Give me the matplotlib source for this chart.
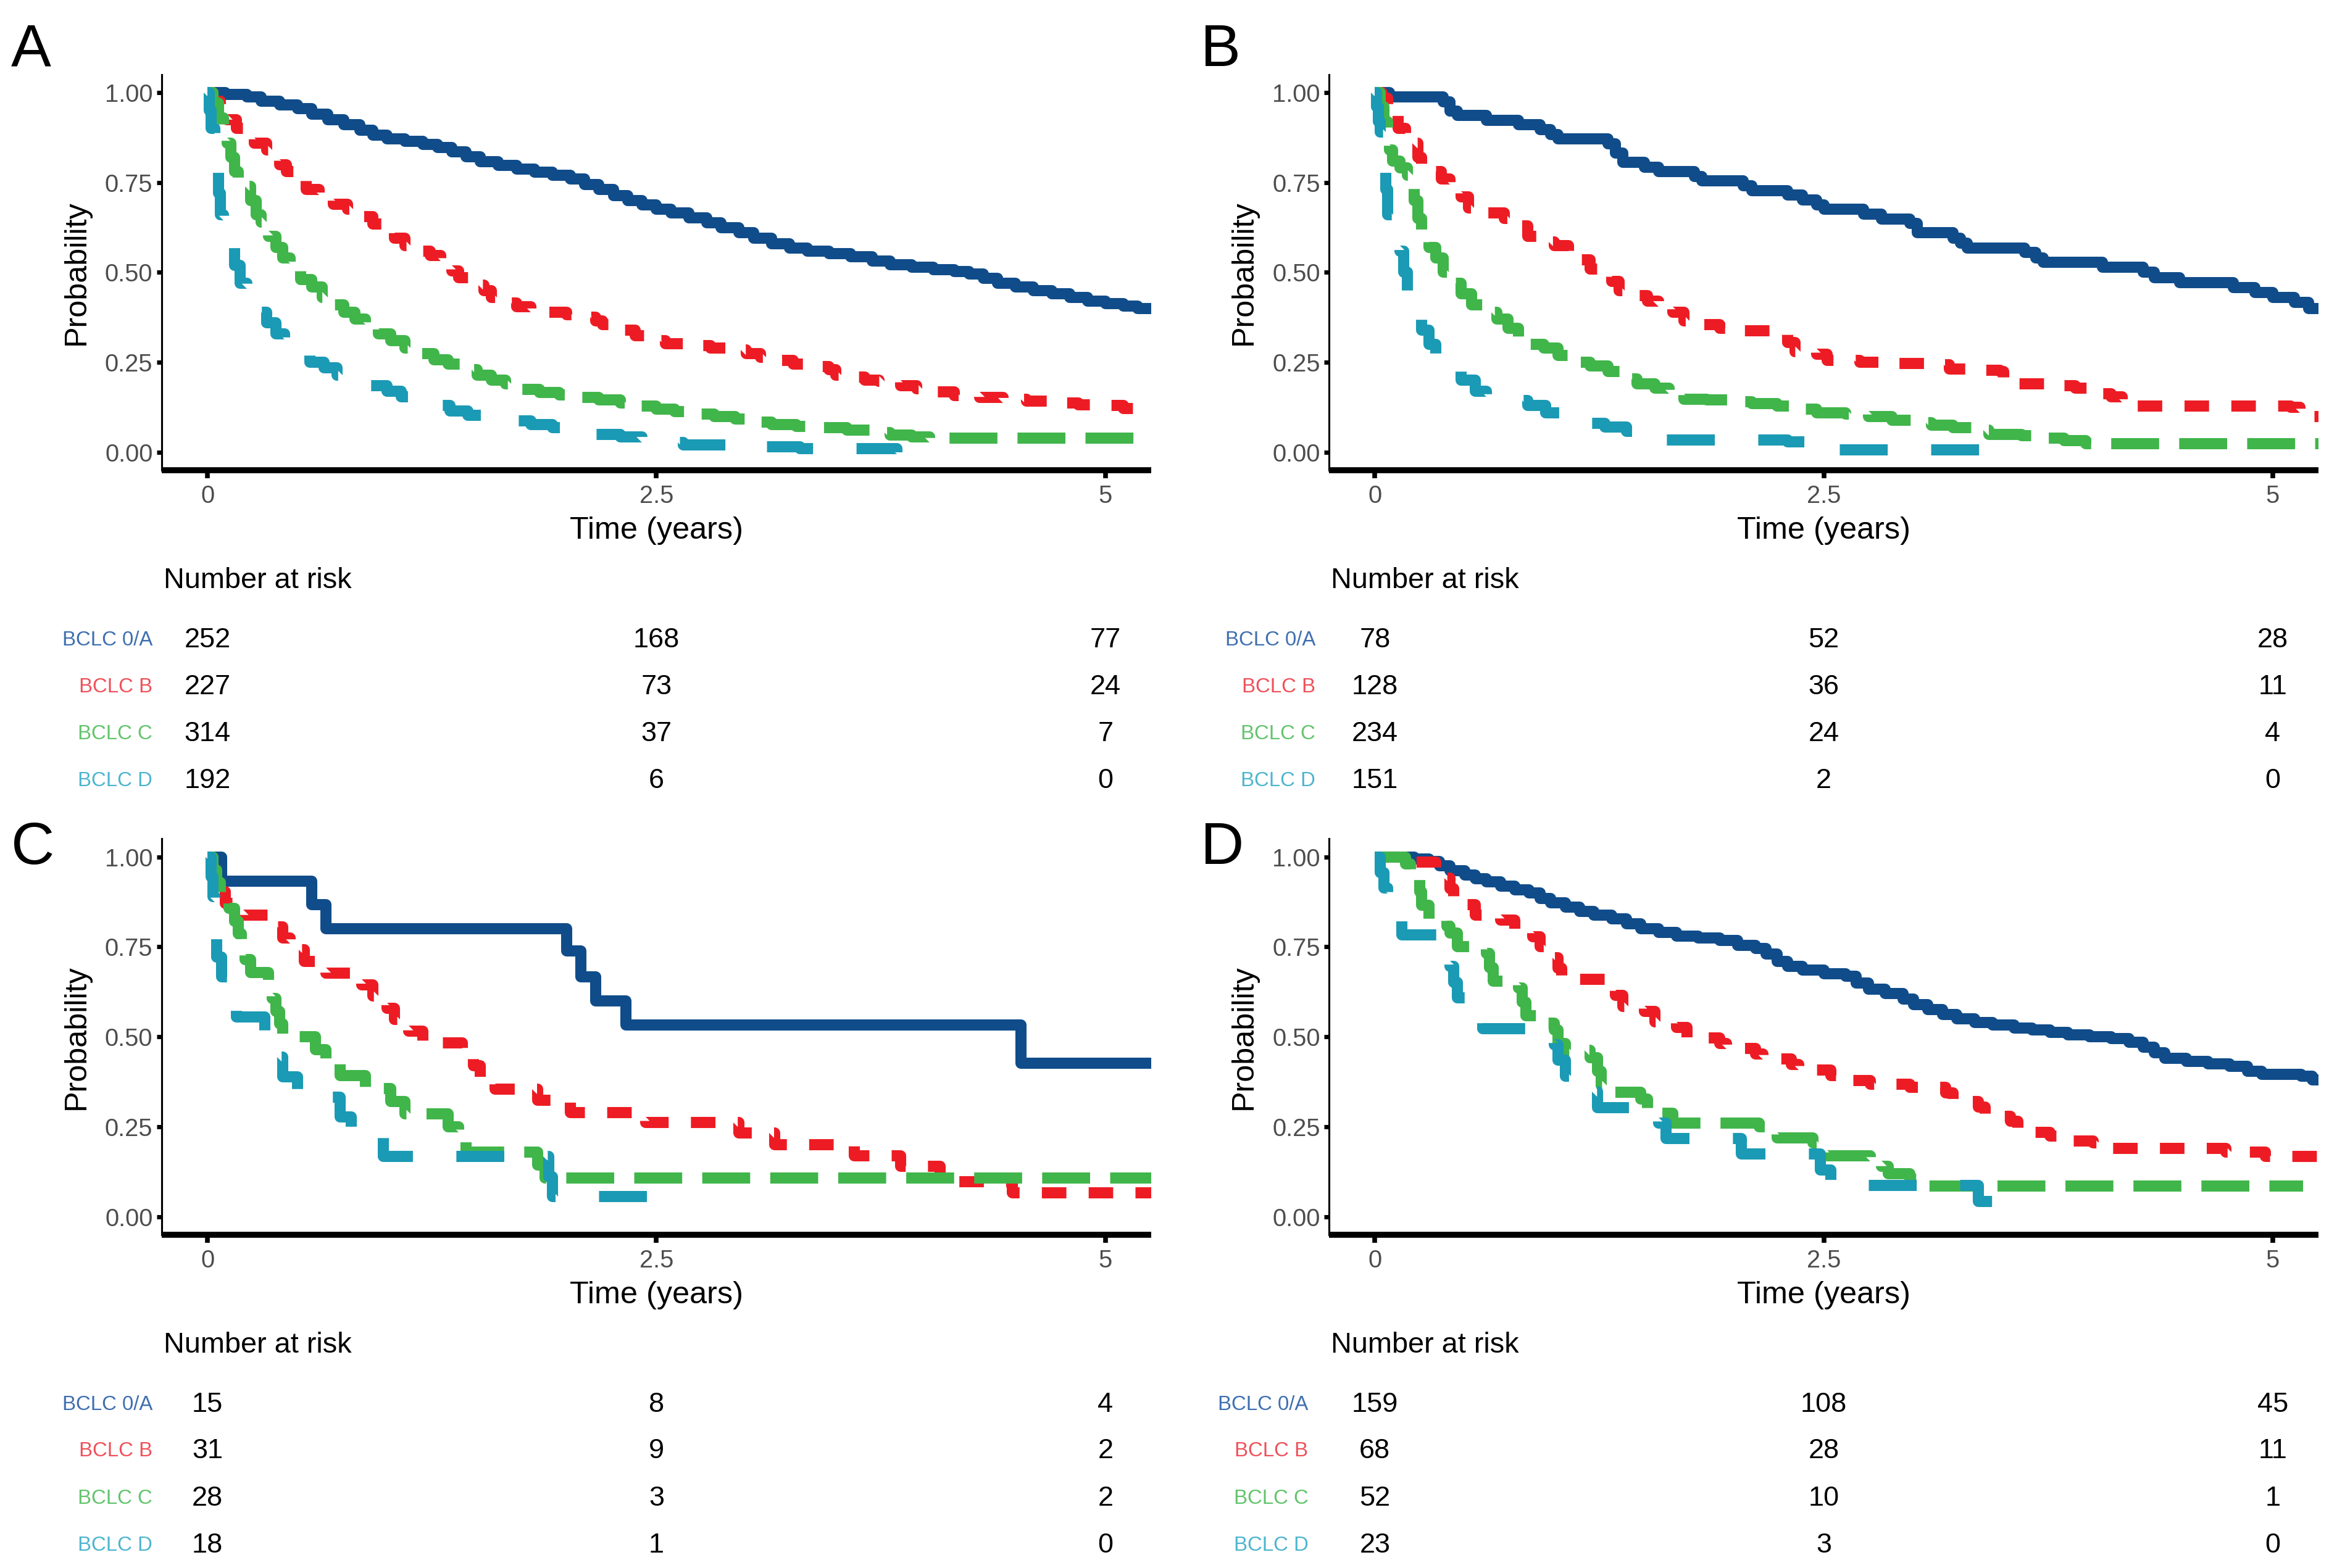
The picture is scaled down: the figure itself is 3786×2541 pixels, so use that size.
#!/usr/bin/env python3
import matplotlib
matplotlib.use("Agg")
import matplotlib.pyplot as plt
from matplotlib.transforms import blended_transform_factory

# Groups and styling
GROUPS = ["BCLC 0/A", "BCLC B", "BCLC C", "BCLC D"]
LINE_COLORS = ["#104C8A", "#ED1C24", "#40B54A", "#1A9AB4"]
LABEL_COLORS = ["#3F6FB0", "#F0505A", "#62C46C", "#4DB5CF"]
DASHES = [None, (2.2, 2.0), (4.3, 1.8), (4.3, 3.9)]

RISK_TIMES = [0, 2.5, 5]
X_TICKS = [0, 2.5, 5]
X_TICK_LABELS = ["0", "2.5", "5"]
Y_TICKS = [0, 0.25, 0.5, 0.75, 1.0]
Y_TICK_LABELS = ["0.00", "0.25", "0.50", "0.75", "1.00"]

# Kaplan-Meier steps: (time in years, survival)
A_BLUE = [(0, 1.0), (0.1, 0.995), (0.22, 0.988), (0.3, 0.976), (0.4, 0.966), (0.5, 0.955),
          (0.58, 0.94), (0.67, 0.925), (0.76, 0.91), (0.85, 0.895), (0.92, 0.882), (1.0, 0.872),
          (1.1, 0.864), (1.2, 0.856), (1.28, 0.848), (1.36, 0.835), (1.44, 0.822), (1.52, 0.808),
          (1.62, 0.797), (1.72, 0.787), (1.82, 0.778), (1.92, 0.77), (2.02, 0.76), (2.1, 0.745),
          (2.18, 0.73), (2.26, 0.714), (2.34, 0.70), (2.42, 0.688), (2.5, 0.676), (2.58, 0.665),
          (2.68, 0.652), (2.78, 0.638), (2.86, 0.625), (2.96, 0.61), (3.04, 0.595), (3.14, 0.58),
          (3.24, 0.568), (3.34, 0.56), (3.46, 0.552), (3.58, 0.543), (3.7, 0.532), (3.8, 0.522),
          (3.92, 0.514), (4.04, 0.508), (4.16, 0.502), (4.24, 0.495), (4.32, 0.483), (4.4, 0.47),
          (4.5, 0.46), (4.6, 0.45), (4.7, 0.44), (4.8, 0.43), (4.9, 0.42), (5.0, 0.414),
          (5.1, 0.406), (5.18, 0.40), (5.3, 0.40)]
A_RED = [(0, 1.0), (0.03, 0.975), (0.07, 0.95), (0.11, 0.925), (0.16, 0.9), (0.2, 0.875),
         (0.26, 0.86), (0.33, 0.84), (0.4, 0.8), (0.44, 0.78), (0.5, 0.755), (0.55, 0.73),
         (0.62, 0.71), (0.7, 0.69), (0.78, 0.675), (0.86, 0.655), (0.92, 0.635), (0.98, 0.61),
         (1.04, 0.595), (1.1, 0.575), (1.17, 0.56), (1.24, 0.548), (1.3, 0.53), (1.36, 0.505),
         (1.4, 0.485), (1.47, 0.465), (1.54, 0.45), (1.58, 0.43), (1.65, 0.415), (1.72, 0.405),
         (1.8, 0.395), (1.9, 0.39), (2.0, 0.383), (2.08, 0.375), (2.16, 0.365), (2.2, 0.355),
         (2.3, 0.34), (2.38, 0.325), (2.46, 0.31), (2.55, 0.302), (2.66, 0.296), (2.8, 0.29),
         (2.92, 0.285), (3.0, 0.275), (3.08, 0.265), (3.18, 0.255), (3.26, 0.246), (3.38, 0.238),
         (3.46, 0.23), (3.5, 0.215), (3.56, 0.21), (3.66, 0.2), (3.74, 0.197), (3.86, 0.185),
         (3.95, 0.177), (4.06, 0.168), (4.16, 0.158), (4.3, 0.152), (4.43, 0.148), (4.56, 0.143),
         (4.68, 0.138), (4.85, 0.133), (5.0, 0.13), (5.1, 0.122), (5.18, 0.115), (5.3, 0.115)]
A_GREEN = [(0, 1.0), (0.03, 0.97), (0.06, 0.93), (0.09, 0.89), (0.11, 0.86), (0.13, 0.82),
           (0.15, 0.78), (0.17, 0.75), (0.2, 0.74), (0.24, 0.7), (0.27, 0.66), (0.3, 0.64),
           (0.34, 0.6), (0.38, 0.57), (0.42, 0.54), (0.46, 0.51), (0.52, 0.48), (0.58, 0.46),
           (0.64, 0.43), (0.7, 0.41), (0.76, 0.39), (0.82, 0.37), (0.88, 0.35), (0.95, 0.33),
           (1.02, 0.31), (1.1, 0.29), (1.18, 0.275), (1.26, 0.258), (1.34, 0.245), (1.42, 0.23),
           (1.5, 0.215), (1.58, 0.2), (1.66, 0.19), (1.75, 0.175), (1.85, 0.167), (1.96, 0.16),
           (2.06, 0.153), (2.18, 0.146), (2.3, 0.138), (2.4, 0.128), (2.5, 0.12), (2.6, 0.113),
           (2.7, 0.106), (2.82, 0.1), (2.94, 0.092), (3.04, 0.085), (3.14, 0.078), (3.28, 0.072),
           (3.42, 0.068), (3.56, 0.062), (3.7, 0.055), (3.8, 0.048), (3.92, 0.043), (4.02, 0.039),
           (5.3, 0.039)]
A_CYAN = [(0, 1.0), (0.01, 0.95), (0.02, 0.9), (0.04, 0.84), (0.05, 0.78), (0.06, 0.72),
          (0.07, 0.66), (0.09, 0.62), (0.12, 0.57), (0.15, 0.52), (0.18, 0.47), (0.22, 0.44),
          (0.28, 0.39), (0.33, 0.36), (0.38, 0.33), (0.43, 0.3), (0.5, 0.27), (0.57, 0.25),
          (0.65, 0.235), (0.72, 0.215), (0.8, 0.2), (0.9, 0.185), (1.0, 0.17), (1.08, 0.155),
          (1.16, 0.14), (1.25, 0.13), (1.35, 0.115), (1.45, 0.103), (1.55, 0.095), (1.65, 0.088),
          (1.8, 0.077), (1.92, 0.068), (2.02, 0.058), (2.15, 0.05), (2.3, 0.043), (2.42, 0.036),
          (2.52, 0.028), (2.65, 0.02), (2.9, 0.016), (3.3, 0.011), (3.84, 0.0)]

B_BLUE = [(0, 1.0), (0.08, 0.987), (0.38, 0.974), (0.42, 0.949), (0.46, 0.936), (0.62, 0.923),
          (0.8, 0.91), (0.92, 0.897), (0.98, 0.884), (1.02, 0.871), (1.3, 0.858), (1.34, 0.832),
          (1.38, 0.806), (1.5, 0.793), (1.58, 0.78), (1.78, 0.767), (1.82, 0.754), (2.05, 0.741),
          (2.1, 0.728), (2.3, 0.715), (2.38, 0.702), (2.46, 0.688), (2.5, 0.675), (2.72, 0.662),
          (2.82, 0.649), (2.98, 0.636), (3.02, 0.61), (3.22, 0.596), (3.26, 0.582), (3.3, 0.568),
          (3.62, 0.555), (3.68, 0.541), (3.72, 0.528), (4.05, 0.514), (4.28, 0.5), (4.34, 0.486),
          (4.48, 0.472), (4.78, 0.458), (4.9, 0.444), (5.0, 0.43), (5.12, 0.416), (5.2, 0.40),
          (5.3, 0.40)]
B_RED = [(0, 1.0), (0.04, 0.984), (0.07, 0.96), (0.1, 0.94), (0.13, 0.9), (0.17, 0.885),
         (0.21, 0.86), (0.24, 0.82), (0.26, 0.79), (0.32, 0.78), (0.37, 0.76), (0.42, 0.73),
         (0.48, 0.71), (0.52, 0.68), (0.6, 0.665), (0.72, 0.65), (0.8, 0.63), (0.85, 0.6),
         (0.9, 0.585), (1.0, 0.575), (1.08, 0.56), (1.14, 0.535), (1.2, 0.51), (1.26, 0.5),
         (1.32, 0.475), (1.36, 0.45), (1.42, 0.435), (1.52, 0.42), (1.58, 0.4), (1.66, 0.39),
         (1.72, 0.365), (1.8, 0.355), (1.92, 0.345), (2.0, 0.338), (2.24, 0.33), (2.3, 0.305),
         (2.34, 0.28), (2.46, 0.272), (2.52, 0.255), (2.7, 0.25), (2.9, 0.247), (3.1, 0.243),
         (3.2, 0.232), (3.3, 0.228), (3.48, 0.225), (3.5, 0.2), (3.52, 0.19), (3.75, 0.185),
         (3.9, 0.178), (3.98, 0.163), (4.1, 0.155), (4.16, 0.14), (4.22, 0.128), (4.5, 0.128),
         (5.1, 0.125), (5.15, 0.11), (5.18, 0.1), (5.3, 0.1)]
B_GREEN = [(0, 1.0), (0.03, 0.96), (0.05, 0.92), (0.07, 0.88), (0.08, 0.84), (0.1, 0.81),
           (0.14, 0.79), (0.18, 0.77), (0.2, 0.74), (0.22, 0.7), (0.24, 0.65), (0.26, 0.6),
           (0.3, 0.57), (0.34, 0.54), (0.38, 0.5), (0.42, 0.47), (0.48, 0.44), (0.54, 0.41),
           (0.6, 0.39), (0.68, 0.37), (0.74, 0.345), (0.8, 0.32), (0.86, 0.3), (0.94, 0.29),
           (1.02, 0.27), (1.1, 0.25), (1.2, 0.24), (1.3, 0.225), (1.38, 0.205), (1.46, 0.19),
           (1.56, 0.178), (1.64, 0.16), (1.72, 0.148), (1.85, 0.146), (1.98, 0.14), (2.1, 0.135),
           (2.24, 0.128), (2.36, 0.12), (2.46, 0.11), (2.62, 0.107), (2.75, 0.1), (2.88, 0.09),
           (3.0, 0.082), (3.1, 0.075), (3.22, 0.068), (3.34, 0.062), (3.42, 0.05), (3.6, 0.046),
           (3.74, 0.04), (3.84, 0.033), (3.96, 0.025), (5.3, 0.025)]
B_CYAN = [(0, 1.0), (0.01, 0.96), (0.02, 0.92), (0.03, 0.89), (0.05, 0.8), (0.06, 0.73),
          (0.07, 0.66), (0.1, 0.6), (0.14, 0.56), (0.16, 0.5), (0.18, 0.44), (0.22, 0.4),
          (0.26, 0.34), (0.3, 0.3), (0.34, 0.26), (0.4, 0.23), (0.48, 0.2), (0.56, 0.17),
          (0.62, 0.155), (0.75, 0.145), (0.85, 0.13), (0.95, 0.11), (1.04, 0.095), (1.15, 0.08),
          (1.28, 0.07), (1.4, 0.058), (1.5, 0.045), (1.6, 0.035), (2.3, 0.03), (2.4, 0.02),
          (2.46, 0.01), (2.5, 0.007), (3.56, 0.007)]

C_BLUE = [(0, 1.0), (0.08, 0.933), (0.58, 0.867), (0.66, 0.8), (2.0, 0.738), (2.08, 0.667),
          (2.16, 0.6), (2.33, 0.533), (4.53, 0.427), (5.3, 0.427)]
C_RED = [(0, 1.0), (0.02, 0.968), (0.04, 0.935), (0.06, 0.903), (0.1, 0.871), (0.2, 0.839),
         (0.38, 0.806), (0.42, 0.774), (0.46, 0.742), (0.54, 0.71), (0.66, 0.677), (0.86, 0.645),
         (0.92, 0.613), (1.0, 0.58), (1.04, 0.548), (1.12, 0.516), (1.2, 0.484), (1.42, 0.452),
         (1.48, 0.419), (1.52, 0.387), (1.6, 0.355), (1.84, 0.323), (2.02, 0.29), (2.44, 0.262),
         (2.96, 0.233), (3.16, 0.2), (3.6, 0.17), (3.86, 0.14), (4.08, 0.11), (4.12, 0.097),
         (4.48, 0.066), (5.3, 0.066)]
C_GREEN = [(0, 1.0), (0.03, 0.964), (0.05, 0.929), (0.07, 0.893), (0.12, 0.857), (0.15, 0.821),
           (0.17, 0.786), (0.19, 0.75), (0.21, 0.714), (0.24, 0.679), (0.34, 0.643), (0.36, 0.607),
           (0.38, 0.571), (0.4, 0.536), (0.42, 0.5), (0.6, 0.464), (0.66, 0.429), (0.74, 0.393),
           (0.88, 0.357), (1.02, 0.321), (1.1, 0.286), (1.34, 0.25), (1.4, 0.214), (1.44, 0.179),
           (1.84, 0.143), (1.88, 0.107), (5.3, 0.107)]
C_CYAN = [(0, 1.0), (0.02, 0.944), (0.03, 0.889), (0.04, 0.778), (0.05, 0.722), (0.08, 0.667),
          (0.16, 0.556), (0.32, 0.5), (0.4, 0.444), (0.42, 0.389), (0.5, 0.333), (0.74, 0.278),
          (0.8, 0.222), (0.98, 0.167), (1.9, 0.111), (1.92, 0.056), (2.55, 0.056)]

D_BLUE = [(0, 1.0), (0.22, 0.994), (0.3, 0.987), (0.36, 0.975), (0.42, 0.962), (0.5, 0.95),
          (0.56, 0.94), (0.62, 0.93), (0.7, 0.918), (0.78, 0.908), (0.86, 0.9), (0.92, 0.885),
          (0.98, 0.872), (1.06, 0.86), (1.14, 0.848), (1.22, 0.838), (1.32, 0.828), (1.4, 0.815),
          (1.48, 0.8), (1.58, 0.79), (1.68, 0.78), (1.8, 0.775), (1.92, 0.768), (2.02, 0.755),
          (2.12, 0.745), (2.18, 0.73), (2.24, 0.71), (2.3, 0.695), (2.38, 0.685), (2.5, 0.675),
          (2.62, 0.668), (2.68, 0.65), (2.75, 0.632), (2.84, 0.62), (2.94, 0.605), (3.0, 0.59),
          (3.08, 0.575), (3.16, 0.562), (3.24, 0.55), (3.34, 0.54), (3.44, 0.533), (3.56, 0.525),
          (3.66, 0.52), (3.76, 0.512), (3.86, 0.505), (3.98, 0.5), (4.1, 0.495), (4.2, 0.485),
          (4.28, 0.472), (4.34, 0.455), (4.4, 0.44), (4.52, 0.432), (4.64, 0.425), (4.76, 0.418),
          (4.86, 0.405), (4.94, 0.395), (5.16, 0.39), (5.22, 0.38), (5.3, 0.38)]
D_RED = [(0, 1.0), (0.2, 0.985), (0.34, 0.971), (0.38, 0.956), (0.4, 0.941), (0.42, 0.912),
         (0.44, 0.882), (0.5, 0.868), (0.56, 0.838), (0.7, 0.824), (0.78, 0.794), (0.88, 0.779),
         (0.92, 0.75), (1.0, 0.72), (1.02, 0.69), (1.04, 0.66), (1.3, 0.645), (1.34, 0.615),
         (1.38, 0.585), (1.5, 0.571), (1.56, 0.541), (1.68, 0.526), (1.74, 0.497), (1.92, 0.482),
         (1.96, 0.467), (2.12, 0.452), (2.16, 0.438), (2.32, 0.423), (2.36, 0.408), (2.54, 0.393),
         (2.6, 0.378), (2.76, 0.368), (2.98, 0.36), (3.18, 0.345), (3.22, 0.32), (3.36, 0.305),
         (3.4, 0.28), (3.54, 0.265), (3.58, 0.235), (3.76, 0.225), (3.8, 0.21), (4.0, 0.205),
         (4.04, 0.19), (4.74, 0.18), (4.96, 0.167), (5.3, 0.167)]
D_GREEN = [(0, 1.0), (0.17, 0.981), (0.2, 0.962), (0.24, 0.942), (0.25, 0.904), (0.26, 0.865),
           (0.3, 0.827), (0.4, 0.808), (0.42, 0.788), (0.46, 0.75), (0.62, 0.731), (0.64, 0.692),
           (0.66, 0.654), (0.8, 0.635), (0.82, 0.596), (0.84, 0.558), (0.9, 0.538), (1.0, 0.519),
           (1.02, 0.481), (1.06, 0.462), (1.2, 0.442), (1.24, 0.404), (1.26, 0.365), (1.3, 0.346),
           (1.48, 0.327), (1.52, 0.288), (1.66, 0.26), (2.14, 0.25), (2.18, 0.24), (2.24, 0.22),
           (2.44, 0.205), (2.5, 0.19), (2.52, 0.17), (2.76, 0.16), (2.82, 0.14), (2.86, 0.12),
           (2.98, 0.105), (3.04, 0.085), (5.17, 0.085)]
D_CYAN = [(0, 1.0), (0.03, 0.957), (0.05, 0.913), (0.07, 0.87), (0.12, 0.826), (0.15, 0.783),
          (0.4, 0.739), (0.42, 0.696), (0.44, 0.652), (0.46, 0.609), (0.6, 0.522), (1.0, 0.478),
          (1.02, 0.435), (1.06, 0.391), (1.2, 0.348), (1.24, 0.304), (1.58, 0.261), (1.62, 0.217),
          (2.04, 0.174), (2.48, 0.13), (2.54, 0.087), (3.36, 0.043), (3.63, 0.043)]

# Number at risk at 0, 2.5 and 5 years (rows follow GROUPS)
RISK_A = [[252, 168, 77], [227, 73, 24], [314, 37, 7], [192, 6, 0]]
RISK_B = [[78, 52, 28], [128, 36, 11], [234, 24, 4], [151, 2, 0]]
RISK_C = [[15, 8, 4], [31, 9, 2], [28, 3, 2], [18, 1, 0]]
RISK_D = [[159, 108, 45], [68, 28, 11], [52, 10, 1], [23, 3, 0]]

W, H, DPI = 3786, 2541, 250
AX_W, AX_H = 0.4234, 0.2525

# letter, axes position, letter position, curves, risk table, row-label x offset
PANELS = [
    ("A", (0.0692, 0.700), (0.0048, 0.958), [A_BLUE, A_RED, A_GREEN, A_CYAN], RISK_A, -0.0094),
    ("B", (0.5687, 0.700), (0.5137, 0.958), [B_BLUE, B_RED, B_GREEN, B_CYAN], RISK_B, -0.0137),
    ("C", (0.0692, 0.2125), (0.0048, 0.449), [C_BLUE, C_RED, C_GREEN, C_CYAN], RISK_C, -0.0094),
    ("D", (0.5687, 0.2125), (0.5137, 0.449), [D_BLUE, D_RED, D_GREEN, D_CYAN], RISK_D, -0.021),
]

# risk table rows, in axes-fraction below the panel bottom
NAR_Y = -0.279
ROW_Y = [-0.429, -0.547, -0.666, -0.784]


def draw_panel(fig, letter, pos, letter_pos, curves, risk, label_dx):
    ax = fig.add_axes([pos[0], pos[1], AX_W, AX_H])

    for i, curve in enumerate(curves):
        t, s = zip(*curve)
        line, = ax.plot(t, s, drawstyle="steps-post", color=LINE_COLORS[i],
                        lw=5.2, zorder=2 + i, solid_capstyle="butt")
        if DASHES[i] is not None:
            line.set_dashes(DASHES[i])
            line.set_dash_capstyle("butt")

    ax.set_xlim(-0.255, 5.255)
    ax.set_ylim(-0.05, 1.05)
    ax.set_xticks(X_TICKS)
    ax.set_xticklabels(X_TICK_LABELS)
    ax.set_yticks(Y_TICKS)
    ax.set_yticklabels(Y_TICK_LABELS)

    for side in ("top", "right"):
        ax.spines[side].set_visible(False)
    ax.spines["left"].set_linewidth(0.9)
    ax.spines["bottom"].set_linewidth(2.8)
    ax.spines["bottom"].set_capstyle("butt")
    ax.tick_params(axis="y", length=2.2, width=2.0, pad=2.0, labelsize=11.5,
                   labelcolor="#4D4D4D", color="black")
    ax.tick_params(axis="x", length=3.8, width=2.2, pad=2.8, labelsize=11.5,
                   labelcolor="#4D4D4D", color="black")

    # axis titles
    ax.text(-0.086, 0.5, "Probability", transform=ax.transAxes, rotation=90,
            ha="center", va="center", fontsize=14.5, color="black")
    xt = blended_transform_factory(ax.transData, ax.transAxes)
    ax.text(2.5, -0.152, "Time (years)", transform=xt, ha="center", va="center",
            fontsize=14.5, color="black")

    # panel letter
    fig.text(letter_pos[0], letter_pos[1], letter, ha="left", va="baseline",
             fontsize=28, color="black")

    # number at risk table
    ax.text(0.002, NAR_Y, "Number at risk", transform=ax.transAxes, ha="left",
            va="center", fontsize=13.5, color="black", clip_on=False)
    for i, group in enumerate(GROUPS):
        ax.text(label_dx, ROW_Y[i], group, transform=ax.transAxes, ha="right",
                va="center", fontsize=9.5, color=LABEL_COLORS[i], clip_on=False)
        for t, n in zip(RISK_TIMES, risk[i]):
            ax.text(t, ROW_Y[i], str(n), transform=xt, ha="center", va="center",
                    fontsize=13, color="black", clip_on=False)
    return ax


def main():
    plt.rcParams["font.family"] = ["Liberation Sans", "DejaVu Sans"]
    fig = plt.figure(figsize=(W / DPI, H / DPI), dpi=DPI)
    fig.patch.set_facecolor("white")

    for letter, pos, letter_pos, curves, risk, label_dx in PANELS:
        draw_panel(fig, letter, pos, letter_pos, curves, risk, label_dx)

    fig.savefig("out.png", dpi=DPI, facecolor="white")


if __name__ == "__main__":
    main()
